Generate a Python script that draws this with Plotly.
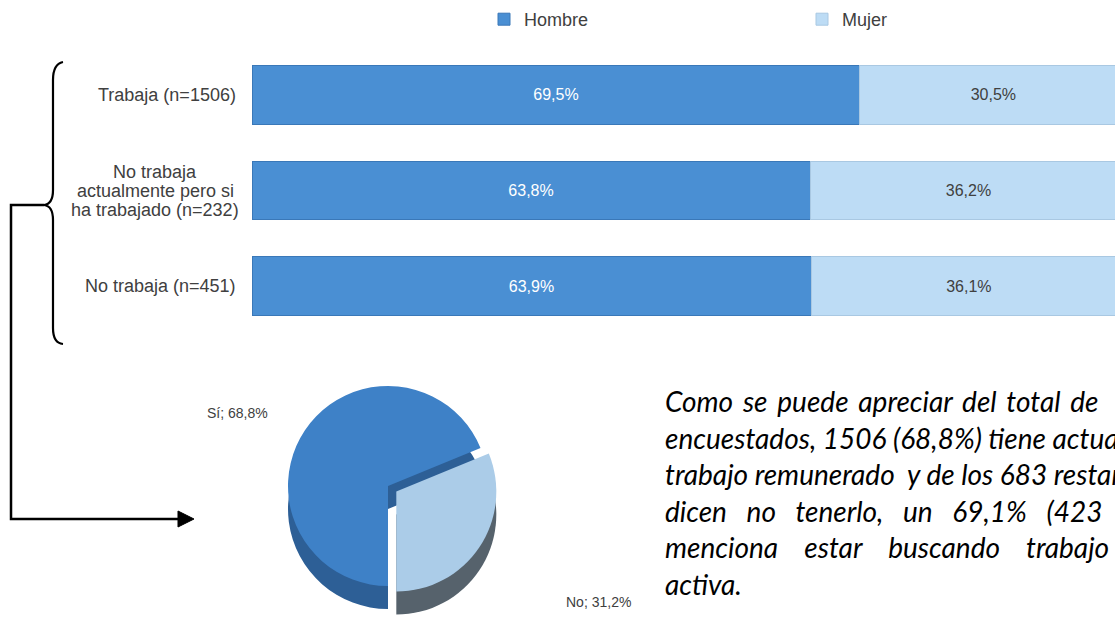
import plotly.graph_objects as go

W, H = 1115, 621

# ---- data ----
categories = ["Trabaja (n=1506)",
              "No trabaja<br>actualmente pero si<br>ha trabajado (n=232)",
              "No trabaja (n=451)"]
hombre = [69.5, 63.8, 63.9]
mujer = [30.5, 36.2, 36.1]
series_names = ["Hombre", "Mujer"]

pie_labels = ["Sí", "No"]
pie_values = [68.8, 31.2]

NB = "\u00a0"
TH = "\u2009"
text_lines = [
    ("Como se puede apreciar del total de", TH),
    ("encuestados, 1506 (68,8%) tiene actualmente un", ""),
    ("trabajo remunerado  y de los 683 restantes que", ""),
    ("dicen no tenerlo, un 69,1% (423 casos)", NB * 2),
    ("menciona estar buscando trabajo de forma", NB * 3),
    ("activa.", ""),
]

# ---- styles ----
C_H = "#4a8fd3"
C_M = "#bddcf5"
GRAY = "#404040"
FONT = "Liberation Sans, Arial, sans-serif"


def px(x):
    return x / W


def py(y):
    return 1 - y / H


fig = go.Figure()
fig.add_trace(go.Bar(
    y=categories, x=hombre, orientation="h", name=series_names[0],
    marker=dict(color=C_H, line=dict(color="#3a78b8", width=1)),
    width=0.61, texttemplate="%{x:.1f}%", textposition="inside",
    insidetextanchor="middle", textfont=dict(color="white", size=16, family=FONT),
    hoverinfo="skip"))
fig.add_trace(go.Bar(
    y=categories, x=mujer, orientation="h", name=series_names[1],
    marker=dict(color=C_M, line=dict(color="#a9c8e2", width=1)),
    width=0.61, texttemplate="%{x:.1f}%", textposition="inside",
    insidetextanchor="middle", textfont=dict(color=GRAY, size=16, family=FONT),
    hoverinfo="skip"))

# depth layer of the pie (3D look)
pie_x = [px(278), px(498)]
fig.add_trace(go.Pie(
    labels=pie_labels, values=pie_values, sort=False, direction="clockwise",
    rotation=180, pull=[0, 0.1], textinfo="none", showlegend=False,
    marker=dict(colors=["#2d5f96", "#56626c"]), hoverinfo="skip",
    domain=dict(x=pie_x, y=[py(619), py(399)])))
fig.add_trace(go.Pie(
    labels=pie_labels, values=pie_values, sort=False, direction="clockwise",
    rotation=180, pull=[0, 0.1], showlegend=False, textinfo="none",
    marker=dict(colors=["#3e81c7", "#abcce8"]), hoverinfo="skip",
    domain=dict(x=pie_x, y=[py(596), py(376)])))

annotations = []
# pie labels
for lab, val, (ax, ay) in zip(pie_labels, pie_values, [(205, 423), (598, 612)]):
    annotations.append(dict(
        x=px(ax), y=py(ay), xref="paper", yref="paper", showarrow=False,
        text=f"{lab}; {val:.1f}%".replace(".", ","),
        font=dict(size=14, color=GRAY, family=FONT)))

# category labels (one annotation per line for tighter line spacing;
# multi-line labels are centred as a block that ends at the bars)
LH = 19
for cat in categories:
    parts = cat.split("<br>")
    n = len(parts)
    for i, part in enumerate(parts):
        if n == 1:
            ax, anchor = px(238), "right"
        else:
            ax, anchor = px(155), "center"
        annotations.append(dict(
            x=ax, xref="paper", y=cat, yref="y", xanchor=anchor,
            yanchor="middle", text=part, showarrow=False,
            yshift=((n - 1) / 2 - i) * LH,
            font=dict(size=18, color=GRAY, family=FONT)))

# paragraph lines (justified look via extra spacing)
line_y = [401, 438, 474, 511, 547, 584]
for (t, extra), yy in zip(text_lines, line_y):
    t = t.replace(" ", " " + extra) if extra else t
    annotations.append(dict(
        x=px(663), xref="paper", y=py(yy), yref="paper", xanchor="left",
        yanchor="middle", text=t, showarrow=False,
        font=dict(size=28, color="black", family="Lato", style="italic")))


def pth(cmds):
    out = []
    for c in cmds:
        if isinstance(c, str):
            out.append(c)
        else:
            out.append(f"{px(c[0]):.5f},{py(c[1]):.5f}")
    return " ".join(out)


brace = pth(["M", (63, 62), "Q", (53, 64), (53, 80), "L", (53, 190),
             "Q", (53, 204), (44, 205), "Q", (53, 206), (53, 220),
             "L", (53, 328), "Q", (53, 343), (63, 344)])
conn = pth(["M", (44, 205), "L", (11, 205), "L", (11, 519), "L", (182, 519)])
head = pth(["M", (194, 519), "L", (178, 511), "L", (178, 527), "Z"])

shapes = [
    dict(type="path", path=brace, xref="paper", yref="paper",
         line=dict(color="black", width=2.2)),
    dict(type="path", path=conn, xref="paper", yref="paper",
         line=dict(color="black", width=2.5)),
    dict(type="path", path=head, xref="paper", yref="paper",
         line=dict(color="black", width=1), fillcolor="black"),
]

fig.update_layout(
    width=W, height=H, margin=dict(l=0, r=0, t=0, b=0, autoexpand=False),
    paper_bgcolor="white", plot_bgcolor="white",
    barmode="stack", separators=",.",
    xaxis=dict(domain=[px(252), 1], range=[0, (W - 252) / 8.748],
               visible=False, fixedrange=True),
    yaxis=dict(domain=[py(334), py(47)], range=[2.5, -0.5],
               showticklabels=False, showgrid=False, zeroline=False,
               fixedrange=True),
    legend=dict(orientation="h", x=px(484), xanchor="left", y=py(1),
                yanchor="top", entrywidth=273, traceorder="normal",
                font=dict(size=18, color=GRAY, family=FONT),
                itemclick=False, itemdoubleclick=False),
    annotations=annotations, shapes=shapes,
    font=dict(family=FONT),
)

fig.write_html("out.html", post_script="document.body.style.margin='0';",
               config={"displayModeBar": False})
